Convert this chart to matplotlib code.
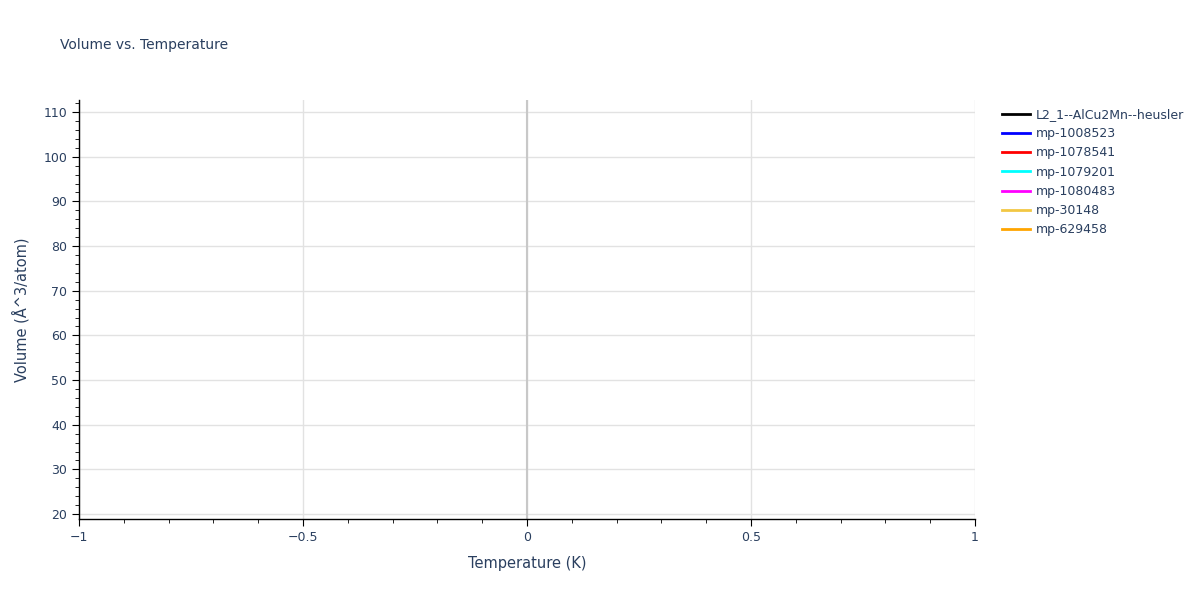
import matplotlib.pyplot as plt
from matplotlib.ticker import MultipleLocator

plt.rcParams['font.family'] = ['DejaVu Sans']

# series in the legend (no data points are shown in the chart)
names = ['L2_1--AlCu2Mn--heusler', 'mp-1008523', 'mp-1078541', 'mp-1079201',
         'mp-1080483', 'mp-30148', 'mp-629458']
colors = ['black', 'blue', 'red', 'cyan', 'magenta', '#f2c744', 'orange']
temps = [[] for _ in names]
volumes = [[] for _ in names]

txt = '#2a3f5f'
fig = plt.figure(figsize=(12, 6), dpi=100)
ax = fig.add_axes([79 / 1200, 1 - 519 / 600, 896 / 1200, 419 / 600])

for t, v, n, c in zip(temps, volumes, names, colors):
    ax.plot(t, v, color=c, lw=2, label=n)

ax.set_xlim(-1, 1)
ax.set_ylim(18.9, 112.7)
ax.xaxis.set_major_locator(MultipleLocator(0.5))
ax.xaxis.set_minor_locator(MultipleLocator(0.1))
ax.yaxis.set_major_locator(MultipleLocator(10))
ax.yaxis.set_minor_locator(MultipleLocator(2))
ax.set_xticks([-1, -0.5, 0, 0.5, 1])
ax.set_xticklabels(['\u22121', '\u22120.5', '0', '0.5', '1'])

ax.grid(True, which='major', color='#e2e2e2', lw=1)
ax.axvline(0, color='#c8c8c8', lw=1.5, zorder=1)
ax.set_axisbelow(True)

for s in ['top', 'right']:
    ax.spines[s].set_visible(False)
for s in ['left', 'bottom']:
    ax.spines[s].set_color('black')
    ax.spines[s].set_linewidth(1)

ax.tick_params(which='major', direction='out', length=5, color='black',
               labelcolor=txt, labelsize=9)
ax.tick_params(which='minor', direction='out', length=3, color='black')

ax.set_xlabel('Temperature (K)', color=txt, fontsize=10.5, labelpad=9)
ax.set_ylabel('Volume (Å^3/atom)', color=txt, fontsize=10.5, labelpad=10)
fig.text(60 / 1200, 1 - 45 / 600, 'Volume vs. Temperature', color=txt,
         fontsize=10, va='center', ha='left')

leg = ax.legend(loc='upper left', bbox_to_anchor=(1.025, 0.993), frameon=False,
                fontsize=9, handlelength=2.2, handletextpad=0.5,
                labelspacing=0.5, borderaxespad=0)
for t in leg.get_texts():
    t.set_color(txt)

fig.savefig('out.png', dpi=100)
